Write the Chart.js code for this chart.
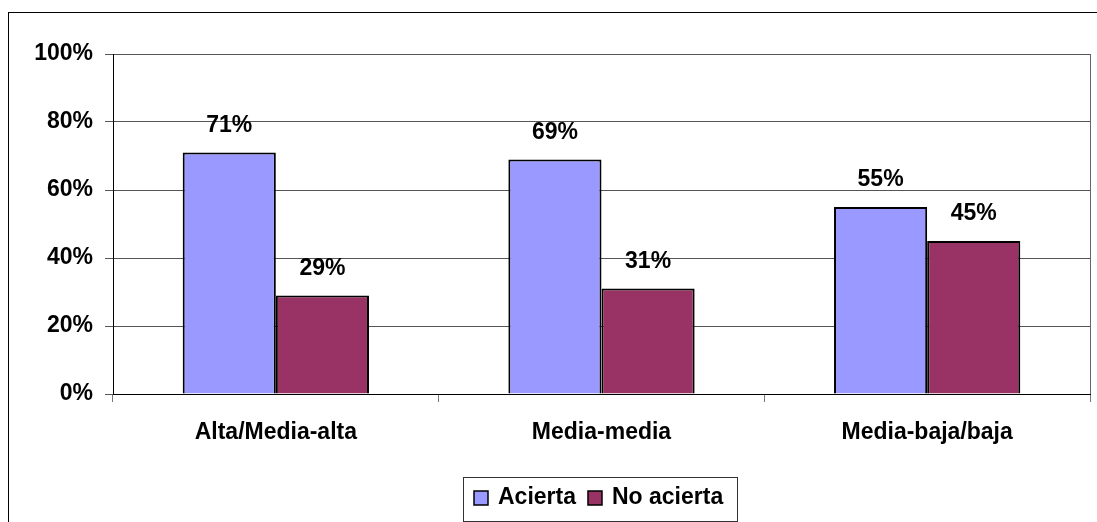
<!DOCTYPE html>
<html>
<head>
<meta charset="utf-8">
<script src="https://cdn.jsdelivr.net/npm/chart.js@4/dist/chart.umd.min.js"></script>
<style>
  html, body { margin: 0; padding: 0; background: #fff; }
  #wrap { width: 1097px; height: 522px; }
</style>
</head>
<body>
<div id="wrap"><canvas id="myChart" width="1097" height="522"></canvas></div>
<script>
// datos del grafico
var categorias = ['Alta/Media-alta', 'Media-media', 'Media-baja/baja'];
var acierta = [71, 69, 55];
var noAcierta = [29, 31, 45];
var yTicks = [0, 20, 40, 60, 80, 100];

var FONT = 'Liberation Sans, Arial, sans-serif';

// etiquetas encima de cada barra
var etiquetasPlugin = {
  id: 'etiquetas',
  afterDatasetsDraw: function (chart) {
    var ctx = chart.ctx;
    ctx.save();
    ctx.font = 'bold 23px ' + FONT;
    ctx.fillStyle = '#000';
    ctx.textAlign = 'center';
    ctx.textBaseline = 'middle';
    chart.data.datasets.forEach(function (ds, i) {
      chart.getDatasetMeta(i).data.forEach(function (bar, j) {
        ctx.fillText(ds.data[j] + '%', bar.x, bar.y - 27);
      });
    });
    ctx.restore();
  }
};

// marco exterior, borde del area de trazado y leyenda con caja
var marcoPlugin = {
  id: 'marco',
  afterDraw: function (chart) {
    var ctx = chart.ctx;
    var a = chart.chartArea;
    ctx.save();
    // borde derecho del area
    ctx.strokeStyle = '#666';
    ctx.lineWidth = 1;
    ctx.beginPath();
    ctx.moveTo(a.right + 0.5, a.top);
    ctx.lineTo(a.right + 0.5, a.bottom);
    ctx.stroke();
    // marco exterior
    ctx.strokeStyle = '#000';
    ctx.strokeRect(8.5, 12.5, 1100, 520);
    // leyenda
    ctx.strokeStyle = '#333';
    ctx.strokeRect(463.5, 477.5, 274, 44);
    ctx.font = 'bold 23px ' + FONT;
    ctx.textBaseline = 'middle';
    ctx.textAlign = 'left';
    var x = 474, y = 498;
    chart.data.datasets.forEach(function (ds) {
      ctx.fillStyle = ds.backgroundColor;
      ctx.fillRect(x, y - 7, 14, 14);
      ctx.strokeStyle = '#000';
      ctx.lineWidth = 1.5;
      ctx.strokeRect(x, y - 7, 14, 14);
      ctx.fillStyle = '#000';
      ctx.fillText(ds.label, x + 24, y);
      x += 24 + ctx.measureText(ds.label).width + 12;
    });
    ctx.restore();
  }
};

var ctx = document.getElementById('myChart').getContext('2d');
var myChart = new Chart(ctx, {
  type: 'bar',
  data: {
    labels: categorias,
    datasets: [{
      label: 'Acierta',
      data: acierta,
      backgroundColor: '#9999FF',
      borderColor: '#000',
      borderWidth: 2
    }, {
      label: 'No acierta',
      data: noAcierta,
      backgroundColor: '#993366',
      borderColor: '#000',
      borderWidth: 2
    }]
  },
  options: {
    responsive: false,
    animation: false,
    devicePixelRatio: 1,
    layout: { padding: { left: 0, right: 7, top: 54, bottom: 0 } },
    datasets: {
      bar: { categoryPercentage: 0.572, barPercentage: 1.0 }
    },
    plugins: {
      legend: { display: false },
      tooltip: { enabled: false }
    },
    scales: {
      x: {
        grid: {
          drawOnChartArea: false,
          drawTicks: true,
          tickLength: 8,
          color: '#777',
          offset: true
        },
        border: { color: '#000', width: 1 },
        ticks: {
          color: '#000',
          padding: 17,
          font: { family: FONT, size: 23, weight: 'bold' }
        },
        afterFit: function (scale) { scale.height = 128; }
      },
      y: {
        min: 0,
        max: 100,
        afterBuildTicks: function (scale) {
          scale.ticks = yTicks.map(function (v) { return { value: v }; });
        },
        grid: {
          color: '#555',
          tickLength: 8,
          drawTicks: true
        },
        border: { color: '#000', width: 1 },
        ticks: {
          color: '#000',
          padding: 12,
          font: { family: FONT, size: 23, weight: 'bold' },
          callback: function (v) { return v + '%'; }
        },
        afterFit: function (scale) { scale.width = 113; }
      }
    }
  },
  plugins: [etiquetasPlugin, marcoPlugin]
});
</script>
</body>
</html>
